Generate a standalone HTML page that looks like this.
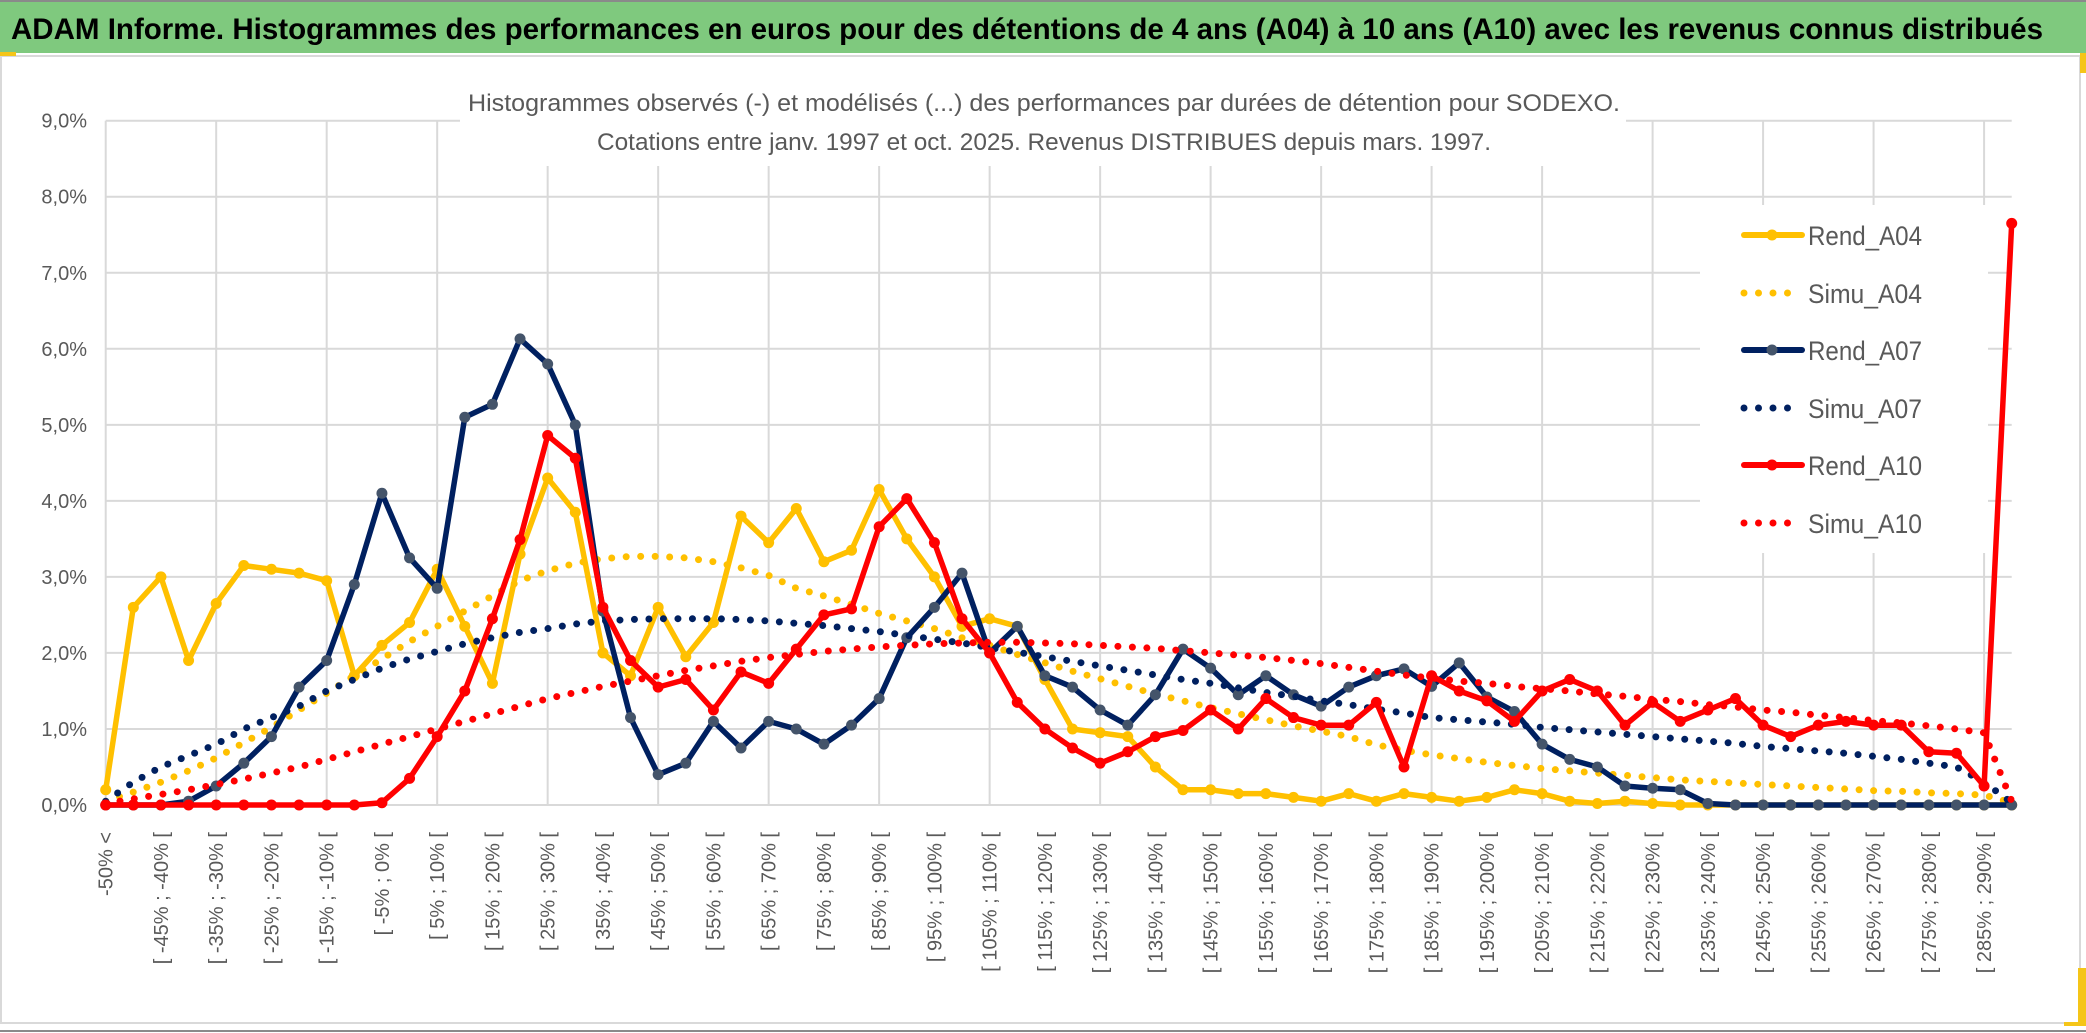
<!DOCTYPE html>
<html><head><meta charset="utf-8">
<style>
html,body{margin:0;padding:0;background:#fff;}
svg{display:block;font-family:"Liberation Sans",sans-serif;}
</style></head>
<body>
<svg id="chart" width="2086" height="1033" viewBox="0 0 2086 1033" xmlns="http://www.w3.org/2000/svg">
  <rect x="0" y="0" width="2086" height="1033" fill="#fff"/>
  <rect x="0" y="2" width="2086" height="51" fill="#7fc97e"/>
  <line x1="0" y1="1" x2="2086" y2="1" stroke="#8a8a8a" stroke-width="2"/>
  <text x="11" y="39" font-size="30" font-weight="bold" fill="#000" textLength="2032" lengthAdjust="spacingAndGlyphs">ADAM Informe. Histogrammes des performances en euros pour des détentions de 4 ans (A04) à 10 ans (A10) avec les revenus connus distribués</text>
  <rect x="1" y="56" width="2079" height="967" fill="none" stroke="#d9d9d9" stroke-width="2"/>
  <line x1="0" y1="1031" x2="2086" y2="1031" stroke="#8a8a8a" stroke-width="2"/>
  <rect x="0" y="52" width="16" height="4" fill="#f5c518"/>
  <rect x="2080" y="53" width="6" height="20" fill="#f5c518"/>
  <rect x="2064" y="968" width="22" height="58" fill="#f5c518"/>
  <rect x="2064" y="968" width="14" height="54" fill="#fff"/>
  <g id="grid"></g>
  <rect x="460" y="110" width="1166" height="56" fill="#fff"/>
  <text x="1044" y="111" font-size="24" fill="#595959" text-anchor="middle" textLength="1152" lengthAdjust="spacingAndGlyphs">Histogrammes observés (-) et modélisés (...) des performances par durées de détention pour SODEXO.</text>
  <text x="1044" y="150" font-size="24" fill="#595959" text-anchor="middle" textLength="894" lengthAdjust="spacingAndGlyphs">Cotations entre janv. 1997 et oct. 2025. Revenus DISTRIBUES depuis mars. 1997.</text>
  <g id="yaxis"></g>
  <g id="xaxis"></g>
  <g id="series"></g>
  <rect x="1700" y="205" width="288" height="348" fill="#fff"/>
  <g id="legend"></g>
</svg>
<script>
const yTicks = [0,1,2,3,4,5,6,7,8,9];
const yTickLabels = ["0,0%","1,0%","2,0%","3,0%","4,0%","5,0%","6,0%","7,0%","8,0%","9,0%"];
const binLowerBounds = [];
for (let b = -50; b <= 290; b += 5) binLowerBounds.push(b);
const rendA04 = [0.2,2.6,3.0,1.9,2.65,3.15,3.1,3.05,2.95,1.7,2.1,2.4,3.1,2.35,1.6,3.3,4.3,3.85,2.0,1.7,2.6,1.95,2.4,3.8,3.45,3.9,3.2,3.35,4.15,3.5,3.0,2.35,2.45,2.35,1.65,1.0,0.95,0.9,0.5,0.2,0.2,0.15,0.15,0.1,0.05,0.15,0.05,0.15,0.1,0.05,0.1,0.2,0.15,0.05,0.02,0.05,0.02,0,0,0,0,0,0,0,0,0,0,0,0,0];
const simuA04 = [0.05,0.17,0.3,0.45,0.62,0.82,1.02,1.25,1.47,1.7,1.92,2.15,2.35,2.55,2.75,2.95,3.08,3.18,3.24,3.27,3.27,3.25,3.2,3.12,3.02,2.85,2.75,2.64,2.52,2.42,2.32,2.2,2.1,1.98,1.87,1.76,1.66,1.56,1.46,1.37,1.28,1.2,1.12,1.04,0.97,0.9,0.79,0.72,0.66,0.61,0.56,0.52,0.48,0.45,0.42,0.39,0.36,0.33,0.31,0.29,0.27,0.25,0.23,0.21,0.19,0.18,0.16,0.15,0.13,0.03];
const rendA07 = [0,0,0,0.05,0.25,0.55,0.9,1.55,1.9,2.9,4.1,3.25,2.85,5.1,5.27,6.13,5.8,5.0,2.55,1.15,0.4,0.55,1.1,0.75,1.1,1.0,0.8,1.05,1.4,2.2,2.6,3.05,2.0,2.35,1.7,1.55,1.25,1.05,1.45,2.05,1.8,1.45,1.7,1.45,1.3,1.55,1.7,1.79,1.56,1.87,1.42,1.23,0.8,0.6,0.5,0.25,0.22,0.2,0.02,0,0,0,0,0,0,0,0,0,0,0];
const simuA07 = [0.05,0.3,0.5,0.65,0.8,1.0,1.15,1.3,1.5,1.65,1.8,1.92,2.02,2.12,2.2,2.27,2.32,2.38,2.42,2.44,2.45,2.45,2.45,2.44,2.42,2.39,2.36,2.32,2.28,2.23,2.18,2.13,2.07,2.01,1.95,1.89,1.83,1.77,1.71,1.65,1.6,1.54,1.48,1.43,1.37,1.32,1.26,1.21,1.15,1.12,1.09,1.06,1.02,0.99,0.96,0.93,0.9,0.87,0.84,0.81,0.77,0.74,0.71,0.68,0.64,0.6,0.55,0.5,0.3,0.03];
const rendA10 = [0,0,0,0,0,0,0,0,0,0,0.03,0.35,0.9,1.5,2.45,3.49,4.86,4.56,2.6,1.9,1.55,1.65,1.25,1.75,1.6,2.05,2.5,2.58,3.66,4.03,3.45,2.45,2.0,1.35,1.0,0.75,0.55,0.7,0.9,0.98,1.25,1.0,1.4,1.15,1.05,1.05,1.35,0.5,1.7,1.5,1.37,1.1,1.5,1.65,1.5,1.05,1.35,1.1,1.25,1.4,1.05,0.9,1.05,1.1,1.05,1.05,0.7,0.68,0.25,7.65];
const simuA10 = [0.02,0.08,0.14,0.2,0.27,0.34,0.42,0.5,0.6,0.7,0.8,0.9,1.0,1.1,1.2,1.3,1.4,1.48,1.56,1.63,1.7,1.77,1.83,1.89,1.94,1.98,2.02,2.05,2.08,2.1,2.12,2.13,2.14,2.14,2.13,2.12,2.1,2.08,2.06,2.03,2.0,1.97,1.94,1.9,1.86,1.81,1.76,1.71,1.67,1.63,1.6,1.56,1.53,1.5,1.46,1.43,1.39,1.36,1.32,1.29,1.25,1.22,1.18,1.15,1.11,1.08,1.04,1.0,0.95,0.05];
const seriesNames = ["Rend_A04","Simu_A04","Rend_A07","Simu_A07","Rend_A10","Simu_A10"];

const NS = "http://www.w3.org/2000/svg";
const X0 = 105.7, X1 = 2011.7, Y0 = 805, Y9 = 120.7;
const nCat = rendA04.length;
function xPos(i){ return X0 + (X1 - X0) * i / (nCat - 1); }
function yPos(v){ return Y0 - (Y0 - Y9) * v / 9; }
function mk(tag, attrs, parent){
  const e = document.createElementNS(NS, tag);
  for (const k in attrs) e.setAttribute(k, attrs[k]);
  parent.appendChild(e);
  return e;
}
function catLabel(i){
  if (i === 0) return "-50% <";
  const lo = binLowerBounds[i - 1];
  return "[ " + lo + "% ; " + (lo + 5) + "% [";
}

const grid = document.getElementById("grid");
yTicks.forEach(t => {
  const l = mk("line", {x1:X0, x2:X1, y1:yPos(t), y2:yPos(t), stroke:"#d9d9d9", "stroke-width":2}, grid);
  
  
});
for (let i = 0; i < nCat; i += 4) {
  const l = mk("line", {x1:xPos(i), x2:xPos(i), y1:Y9, y2:Y0, stroke:"#d9d9d9", "stroke-width":2}, grid);
  
  
}

const yaxis = document.getElementById("yaxis");
yTicks.forEach((t, k) => {
  const tx = mk("text", {x:87, y:yPos(t) + 7, "font-size":20, fill:"#595959", "text-anchor":"end"}, yaxis);
  tx.textContent = yTickLabels[k];
  
  
});

const xaxis = document.getElementById("xaxis");
for (let i = 0; i < nCat; i += 2) {
  const x = xPos(i) + 7, y = 832;
  const tx = mk("text", {x:x, y:y, "font-size":20, fill:"#595959", "text-anchor":"end", transform:"rotate(-90 " + x + " " + y + ")"}, xaxis);
  tx.textContent = catLabel(i);
  
  
}

const series = document.getElementById("series");
function pts(arr){ return arr.map((v, i) => xPos(i).toFixed(1) + "," + yPos(v).toFixed(1)).join(" "); }
function drawRend(arr, color, mcolor, name){
  const g = mk("g", {}, series);
  
  
  const pl = mk("polyline", {points:pts(arr), fill:"none", stroke:color, "stroke-width":5.5, "stroke-linejoin":"round"}, g);
  
  
  arr.forEach((v, i) => {
    const c = mk("circle", {cx:xPos(i), cy:yPos(v), r:5.5, fill:mcolor}, g);
    
    
  });
}
function drawSimu(arr, color, name){
  const pl = mk("polyline", {points:pts(arr), fill:"none", stroke:color, "stroke-width":7, "stroke-dasharray":"0 14.5", "stroke-linecap":"round"}, series);
  
  
}
drawRend(rendA04, "#ffc000", "#ffc000", "rend-a04");
drawSimu(simuA04, "#ffc000", "simu-a04");
drawRend(rendA07, "#002060", "#44546a", "rend-a07");
drawSimu(simuA07, "#002060", "simu-a07");
drawRend(rendA10, "#ff0000", "#ff0000", "rend-a10");
drawSimu(simuA10, "#ff0000", "simu-a10");

const legend = document.getElementById("legend");
const legColors = ["#ffc000","#ffc000","#002060","#002060","#ff0000","#ff0000"];
const legMarker = ["#ffc000",null,"#44546a",null,"#ff0000",null];
const legY = [235,293,350,408,465,523];
seriesNames.forEach((nm, k) => {
  const y = legY[k];
  const g = mk("g", {}, legend);
  
  
  if (legMarker[k]) {
    const l = mk("line", {x1:1744, x2:1802, y1:y, y2:y, stroke:legColors[k], "stroke-width":6, "stroke-linecap":"round"}, g);
    
    
    const c = mk("circle", {cx:1772, cy:y, r:5.5, fill:legMarker[k]}, g);
    
    
  } else {
    const l = mk("line", {x1:1744, x2:1802, y1:y, y2:y, stroke:legColors[k], "stroke-width":7, "stroke-dasharray":"0 14.5", "stroke-linecap":"round"}, g);
    
    
  }
  const t = mk("text", {x:1808, y:y + 10, "font-size":27, fill:"#595959", textLength:114, lengthAdjust:"spacingAndGlyphs"}, g);
  t.textContent = nm;
  
  
});
</script>
</body></html>
